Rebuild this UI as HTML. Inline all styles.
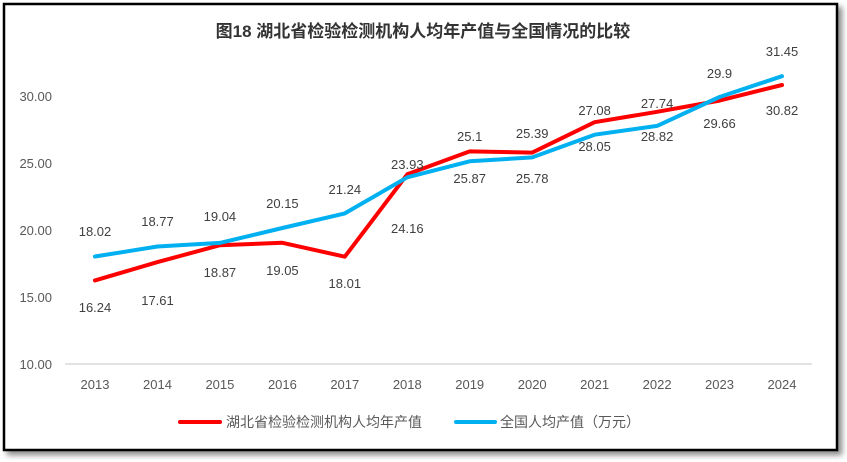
<!DOCTYPE html>
<html><head><meta charset="utf-8"><style>
body{margin:0;width:847px;height:462px;background:#fff;overflow:hidden}
svg{display:block}
text{font-family:"Liberation Sans","Noto Sans CJK SC",sans-serif}
</style></head><body>
<svg width="847" height="462" viewBox="0 0 847 462">
<defs><filter id="sh" x="-5%" y="-5%" width="110%" height="110%"><feDropShadow dx="4" dy="4" stdDeviation="3" flood-color="#000" flood-opacity="0.45"/></filter></defs>
<rect x="4" y="4" width="833" height="446" fill="#fff" stroke="#000" stroke-width="2.5" filter="url(#sh)"/>
<text x="423" y="37" text-anchor="middle" font-size="17" font-weight="bold" fill="#333">图18  湖北省检验检测机构人均年产值与全国情况的比较</text>
<g font-size="13" fill="#595959" text-anchor="end">
<text x="52" y="101">30.00</text><text x="52" y="168">25.00</text><text x="52" y="235">20.00</text><text x="52" y="302">15.00</text><text x="52" y="369">10.00</text>
</g>
<line x1="65" y1="364" x2="812" y2="364" stroke="#d9d9d9" stroke-width="1.5"/>
<g font-size="13" fill="#595959" text-anchor="middle">
<text x="95" y="389">2013</text><text x="157.5" y="389">2014</text><text x="219.9" y="389">2015</text><text x="282.4" y="389">2016</text><text x="344.8" y="389">2017</text><text x="407.3" y="389">2018</text><text x="469.7" y="389">2019</text><text x="532.2" y="389">2020</text><text x="594.6" y="389">2021</text><text x="657.1" y="389">2022</text><text x="719.5" y="389">2023</text><text x="782" y="389">2024</text>
</g>
<polyline fill="none" stroke="#ff0000" stroke-width="4" stroke-linejoin="round" stroke-linecap="round" points="95,280.4 157.5,262.1 219.9,245.2 282.4,242.8 344.8,256.7 407.3,174.3 469.7,151.4 532.2,152.6 594.6,122.2 657.1,111.8 719.5,100.6 782,85"/>
<polyline fill="none" stroke="#00b0f0" stroke-width="4" stroke-linejoin="round" stroke-linecap="round" points="95,256.5 157.5,246.5 219.9,242.9 282.4,228 344.8,213.4 407.3,177.3 469.7,161.3 532.2,157.4 594.6,134.7 657.1,125.9 719.5,97 782,76.2"/>
<g font-size="13" fill="#404040" text-anchor="middle">
<text x="95" y="236">18.02</text><text x="157.5" y="226">18.77</text><text x="219.9" y="221">19.04</text><text x="282.4" y="208">20.15</text><text x="344.8" y="194">21.24</text><text x="407.3" y="169">23.93</text><text x="469.7" y="141">25.1</text><text x="532.2" y="138">25.39</text><text x="594.6" y="115">27.08</text><text x="657.1" y="108">27.74</text><text x="719.5" y="78">29.9</text><text x="782" y="56">31.45</text>
<text x="95" y="312">16.24</text><text x="157.5" y="305">17.61</text><text x="219.9" y="277">18.87</text><text x="282.4" y="275">19.05</text><text x="344.8" y="288">18.01</text><text x="407.3" y="233">24.16</text><text x="469.7" y="183">25.87</text><text x="532.2" y="183">25.78</text><text x="594.6" y="151">28.05</text><text x="657.1" y="141">28.82</text><text x="719.5" y="128">29.66</text><text x="782" y="115">30.82</text>
</g>
<line x1="180" y1="422" x2="220" y2="422" stroke="#ff0000" stroke-width="4" stroke-linecap="round"/>
<text x="226" y="427" font-size="14" fill="#595959">湖北省检验检测机构人均年产值</text>
<line x1="456" y1="422" x2="495" y2="422" stroke="#00b0f0" stroke-width="4" stroke-linecap="round"/>
<text x="500" y="427" font-size="14" fill="#595959">全国人均产值（万元）</text>
</svg>
</body></html>
